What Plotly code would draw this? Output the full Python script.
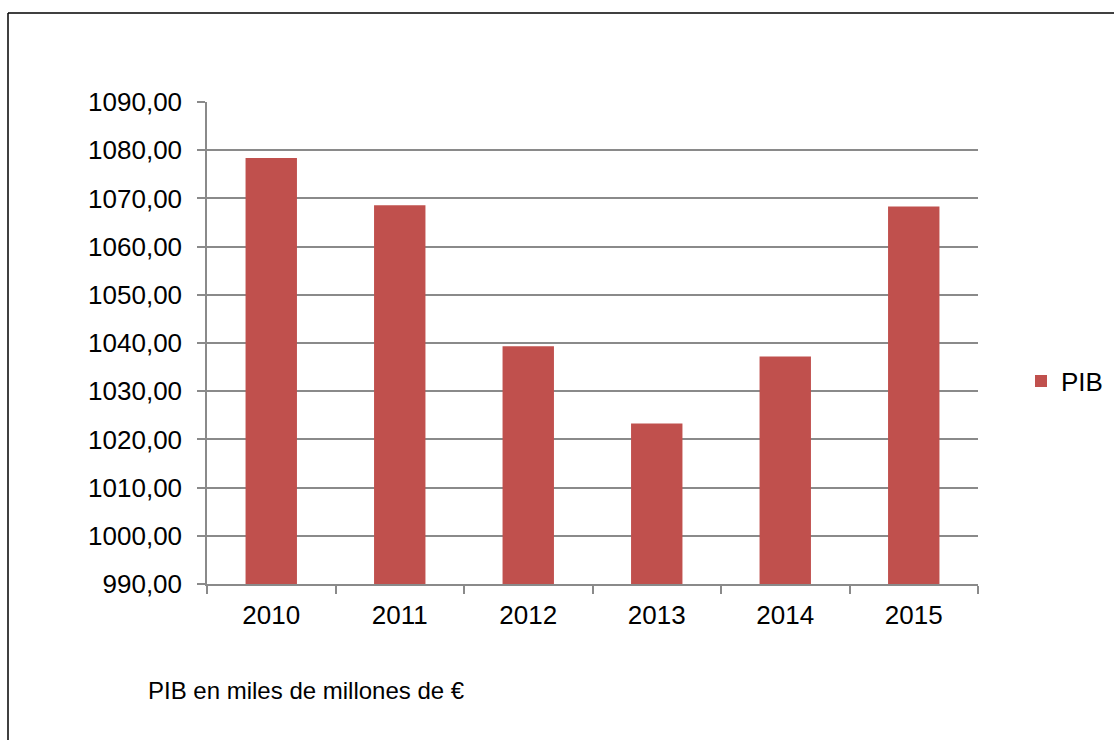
import plotly.graph_objects as go

years = ["2010", "2011", "2012", "2013", "2014", "2015"]
pib = [1078.4, 1068.6, 1039.3, 1023.3, 1037.2, 1068.3]
y_ticks = [990, 1000, 1010, 1020, 1030, 1040, 1050, 1060, 1070, 1080, 1090]
y_labels = [f"{v:.2f}".replace(".", ",") for v in y_ticks]
series_name = "PIB"
footer = "PIB en miles de millones de €"

W, H = 1114, 740
L, R, T, B = 207, 136, 102, 156
pw, ph = W - L - R, H - T - B

FONT = "Liberation Sans, Arial, sans-serif"
GRID = "#8a8a8a"

fig = go.Figure()
fig.add_trace(go.Bar(
    x=years, y=pib, name=series_name,
    marker=dict(color="#C0504D", line=dict(width=0)),
))

fig.update_layout(
    width=W, height=H,
    margin=dict(l=L, r=R, t=T, b=B, autoexpand=False),
    paper_bgcolor="white", plot_bgcolor="white",
    font=dict(family=FONT, size=26, color="black"),
    bargap=0.6,
    showlegend=True,
    legend=dict(
        x=(1021 - L) / pw, y=(H - B - 381) / ph,
        xanchor="left", yanchor="middle",
        font=dict(size=26, family=FONT),
        itemwidth=30, bgcolor="rgba(0,0,0,0)",
    ),
    xaxis=dict(
        type="category",
        showline=True, linecolor=GRID, linewidth=1.5,
        ticks="outside", tickson="boundaries", ticklen=8, tickcolor=GRID, tickwidth=1.5,
        showgrid=False,
        tickfont=dict(size=26, family=FONT),
        ticklabelstandoff=7,
    ),
    yaxis=dict(
        range=[990, 1090],
        tickvals=y_ticks, ticktext=y_labels,
        showline=True, linecolor=GRID, linewidth=1.5,
        ticks="outside", ticklen=8, tickcolor=GRID, tickwidth=1.5,
        showgrid=True, gridcolor=GRID, gridwidth=1.5,
        zeroline=False,
        tickfont=dict(size=26, family=FONT),
        ticklabelstandoff=10,
    ),
    annotations=[dict(
        text=footer, xref="paper", yref="paper",
        x=(146 - L) / pw, y=(H - B - 690) / ph,
        xanchor="left", yanchor="middle", showarrow=False,
        font=dict(size=24, family=FONT, color="black"),
    )],
    shapes=[
        dict(type="line", xref="paper", yref="paper",
             x0=(8 - L) / pw, x1=(W + 5 - L) / pw,
             y0=(H - B - 13) / ph, y1=(H - B - 13) / ph,
             line=dict(color="black", width=1.5)),
        dict(type="line", xref="paper", yref="paper",
             x0=(8 - L) / pw, x1=(8 - L) / pw,
             y0=(H - B - 13) / ph, y1=(H - B - H - 5) / ph,
             line=dict(color="black", width=1.5)),
    ],
)

fig.write_html("out.html")
